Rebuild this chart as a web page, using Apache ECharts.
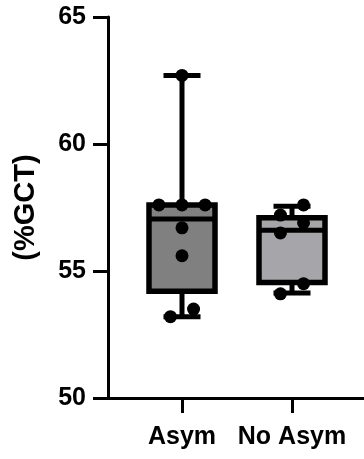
<!DOCTYPE html>
<html>
<head>
<meta charset="utf-8">
<script src="https://cdn.jsdelivr.net/npm/echarts@6/dist/echarts.min.js"></script>
<style>
html,body{margin:0;padding:0;background:#fff;}
#c{width:364px;height:459px;}
</style>
</head>
<body>
<div id="c"></div>
<script>
// ---- data ----
const categories = ['Asym', 'No Asym'];
const yTicks = [50, 55, 60, 65];
// box statistics: [min, Q1, median, Q3, max]
const asymBox = [53.2, 54.2, 57.05, 57.6, 62.7];
const noAsymBox = [54.13, 54.55, 56.6, 57.1, 57.55];
// individual points
const asymPoints = [62.7, 57.6, 57.6, 57.6, 56.7, 55.6, 53.5, 53.2];
const noAsymPoints = [57.6, 57.2, 56.9, 56.5, 54.5, 54.1];

// ---- layout (dot spreading slots, not data) ----
const asymSlots = [0, -2, 0, 2, 0, 0, 1, -1];
const noAsymSlots = [1, -1, 1, -1, 1, -1];
const slotUnit = 0.105;
const boxFills = ['#808080', '#a6a6aa'];

function pts(catIdx, vals, slots) {
  return vals.map((v, i) => [catIdx + 1 + slots[i] * slotUnit, v]);
}

const chart = echarts.init(document.getElementById('c'), null, {renderer: 'canvas'});
const font = 'Liberation Sans, Arial, Helvetica, sans-serif';

function renderBox(params, api) {
  const x = api.value(0);
  const vMin = api.value(1), q1 = api.value(2), med = api.value(3), q3 = api.value(4), vMax = api.value(5);
  const pMin = api.coord([x, vMin]);
  const pQ1 = api.coord([x, q1]);
  const pMed = api.coord([x, med]);
  const pQ3 = api.coord([x, q3]);
  const pMax = api.coord([x, vMax]);
  const cx = pMed[0];
  const hw = 33, cw = 18.5;
  const stroke = {stroke: '#000', lineWidth: 5, fill: null};
  return {
    type: 'group',
    children: [
      {type: 'line', shape: {x1: cx, y1: pMax[1], x2: cx, y2: pQ3[1]}, style: stroke},
      {type: 'line', shape: {x1: cx, y1: pQ1[1], x2: cx, y2: pMin[1]}, style: stroke},
      {type: 'line', shape: {x1: cx - cw, y1: pMax[1], x2: cx + cw, y2: pMax[1]}, style: stroke},
      {type: 'line', shape: {x1: cx - cw, y1: pMin[1], x2: cx + cw, y2: pMin[1]}, style: stroke},
      {type: 'rect', shape: {x: cx - hw, y: pQ3[1], width: 2 * hw, height: pQ1[1] - pQ3[1]},
        style: {fill: boxFills[params.dataIndex], stroke: '#000', lineWidth: 5.5}},
      {type: 'line', shape: {x1: cx - hw, y1: pMed[1], x2: cx + hw, y2: pMed[1]}, style: {stroke: '#000', lineWidth: 5}}
    ]
  };
}

chart.setOption({
  animation: false,
  grid: {left: 108, right: 0, top: 17, bottom: 61},
  xAxis: {
    type: 'value',
    min: 0.32727,
    max: 2.65454,
    splitLine: {show: false},
    axisLine: {show: true, lineStyle: {color: '#000', width: 3}},
    axisTick: {show: true, length: 15, lineStyle: {color: '#000', width: 3}, customValues: [1, 2]},
    axisLabel: {
      show: true, customValues: [1, 2], margin: 27,
      color: '#000', fontSize: 25, fontWeight: 'bold', fontFamily: font,
      formatter: v => categories[Math.round(v) - 1] || ''
    }
  },
  yAxis: {
    type: 'value',
    min: 50, max: 65, interval: 5,
    name: '(%GCT)',
    nameLocation: 'middle',
    nameGap: 68,
    nameTextStyle: {color: '#000', fontSize: 29, fontWeight: 'bold', fontFamily: font},
    splitLine: {show: false},
    axisLine: {show: true, lineStyle: {color: '#000', width: 3}},
    axisTick: {show: true, length: 15, lineStyle: {color: '#000', width: 3}},
    axisLabel: {
      margin: 22, color: '#000', fontSize: 25, fontWeight: 'bold', fontFamily: font,
      formatter: v => yTicks.includes(v) ? String(v) : ''
    }
  },
  series: [
    {
      type: 'custom',
      z: 2,
      renderItem: renderBox,
      encode: {x: 0, y: [1, 2, 3, 4, 5]},
      data: [
        [1].concat(asymBox),
        [2].concat(noAsymBox)
      ]
    },
    {
      type: 'scatter',
      z: 3,
      symbol: 'circle',
      symbolSize: 13,
      itemStyle: {color: '#000', opacity: 1},
      data: pts(0, asymPoints, asymSlots).concat(pts(1, noAsymPoints, noAsymSlots))
    }
  ]
});
</script>
</body>
</html>
